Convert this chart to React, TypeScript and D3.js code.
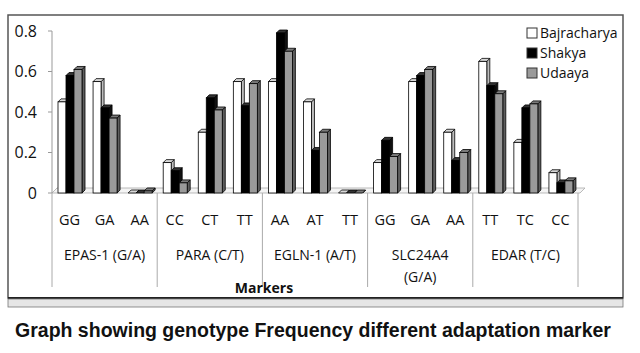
import React from "react";
import * as d3 from "d3";

const groups = ["EPAS-1 (G/A)", "PARA (C/T)", "EGLN-1 (A/T)", "SLC24A4\n(G/A)", "EDAR (T/C)"];
const genotypes = [
  ["GG", "GA", "AA"],
  ["CC", "CT", "TT"],
  ["AA", "AT", "TT"],
  ["GG", "GA", "AA"],
  ["TT", "TC", "CC"],
];
const series = ["Bajracharya", "Shakya", "Udaaya"];
const bajracharya = [0.45, 0.55, 0.0, 0.15, 0.3, 0.55, 0.55, 0.45, 0.0, 0.15, 0.55, 0.3, 0.65, 0.25, 0.1];
const shakya = [0.58, 0.42, 0.0, 0.11, 0.47, 0.43, 0.79, 0.21, 0.0, 0.26, 0.58, 0.16, 0.53, 0.42, 0.05];
const udaaya = [0.61, 0.37, 0.01, 0.05, 0.41, 0.54, 0.7, 0.3, 0.0, 0.18, 0.61, 0.2, 0.49, 0.44, 0.06];
const yTicks = [0, 0.2, 0.4, 0.6, 0.8];

const frontFill = ["#ffffff", "#000000", "#9a9a9a"];
const sideFill = ["#bdbdbd", "#111111", "#5e5e5e"];
const topFill = ["#d8d8d8", "#333333", "#7a7a7a"];

export default function App() {
  const W = 640, H = 353;
  const x0 = 52, x1 = 578;
  const y = d3.scaleLinear().domain([0, 0.8]).range([193, 31]);
  const cats = d3.range(15).map(String);
  const xc = d3.scaleBand().domain(cats).range([x0, x1]);
  const xs = d3.scaleBand().domain(series).range([6, 30]);
  const xg = d3.scaleBand().domain(groups).range([x0, x1]);
  const data = [bajracharya, shakya, udaaya];
  const dx = 3, dy = 3;
  const bw = xs.bandwidth();
  const font = "'Open Sans', sans-serif";

  const bars: React.ReactNode[] = [];
  cats.forEach((c, i) => {
    series.forEach((s, si) => {
      const v = data[si][i];
      const bx = (xc(c) as number) + (xs(s) as number);
      const by = y(v);
      const b0 = y(0);
      const h = b0 - by;
      bars.push(
        <g key={c + s}>
          <polygon
            points={`${bx + bw},${by} ${bx + bw + dx},${by - dy} ${bx + bw + dx},${b0 - dy} ${bx + bw},${b0}`}
            fill={sideFill[si]} stroke="#000" strokeWidth={0.8} />
          <polygon
            points={`${bx},${by} ${bx + dx},${by - dy} ${bx + bw + dx},${by - dy} ${bx + bw},${by}`}
            fill={topFill[si]} stroke="#000" strokeWidth={0.8} />
          <rect x={bx} y={by} width={bw} height={Math.max(h, 0)} fill={frontFill[si]} stroke="#000" strokeWidth={0.8} />
        </g>
      );
    });
  });

  return (
    <svg width={W} height={H} style={{ position: "absolute", left: 0, top: 0, background: "#fff" }}>
      {/* frame */}
      <rect x={8} y={15} width={615} height={283} fill="#fff" stroke="#555" strokeWidth={1.5} />
      <line x1={8} x2={623} y1={298} y2={298} stroke="#222" strokeWidth={2} />
      <rect x={8} y={299} width={615} height={8} fill="#e6e6e6" stroke="#777" strokeWidth={0.8} />

      {/* floor */}
      <polygon points={`${x0},${y(0)} ${x0 + 5},${y(0) - 5} ${x1 + 7},${y(0) - 5} ${x1 + 2},${y(0)}`} fill="#f4f4f4" stroke="#aaa" strokeWidth={0.8} />

      {/* y axis */}
      <line x1={x0} x2={x0} y1={y(0.8)} y2={y(0)} stroke="#999" strokeWidth={1} />
      {yTicks.map((t) => (
        <g key={t}>
          <line x1={x0 - 4} x2={x0} y1={y(t)} y2={y(t)} stroke="#999" />
          <text x={37} y={y(t)} dy="0.35em" textAnchor="end" fontFamily={font} fontSize={16} fill="#111">
            {d3.format("~g")(t)}
          </text>
        </g>
      ))}

      {bars}

      {/* separators */}
      {d3.range(6).map((i) => {
        const xx = x0 + ((x1 - x0) / 5) * i;
        return <line key={i} x1={xx} x2={xx} y1={y(0)} y2={287} stroke="#aaa" strokeWidth={1} />;
      })}

      {/* category labels */}
      {cats.map((c, i) => (
        <text key={c} x={(xc(c) as number) + xc.bandwidth() / 2} y={220} dy="0.35em" textAnchor="middle" fontFamily={font} fontSize={14.5} fill="#111">
          {genotypes[Math.floor(i / 3)][i % 3]}
        </text>
      ))}
      {groups.map((g) => {
        const lines = g.split("\n");
        const cx = (xg(g) as number) + xg.bandwidth() / 2;
        return (
          <text key={g} x={cx} y={255} textAnchor="middle" fontFamily={font} fontSize={14} fill="#111">
            {lines.map((l, li) => (
              <tspan key={li} x={cx} dy={li === 0 ? "0.35em" : 22}>{l}</tspan>
            ))}
          </text>
        );
      })}
      <text x={264} y={288} dy="0.35em" textAnchor="middle" fontFamily={font} fontSize={14} fontWeight="bold" fill="#111">Markers</text>

      {/* legend */}
      {series.map((s, si) => (
        <g key={s} transform={`translate(527, ${33 + si * 20})`}>
          <rect x={0} y={-5} width={10} height={10} fill={frontFill[si]} stroke="#333" strokeWidth={1} />
          <text x={13} y={0} dy="0.35em" fontFamily={font} fontSize={14} fill="#111">{s}</text>
        </g>
      ))}

      {/* caption */}
      <text x={313} y={330} dy="0.35em" textAnchor="middle" fontFamily="'Liberation Sans', Arial, sans-serif" fontSize={19.5} fontWeight="bold" fill="#111">
        Graph showing genotype Frequency different adaptation marker
      </text>
    </svg>
  );
}
